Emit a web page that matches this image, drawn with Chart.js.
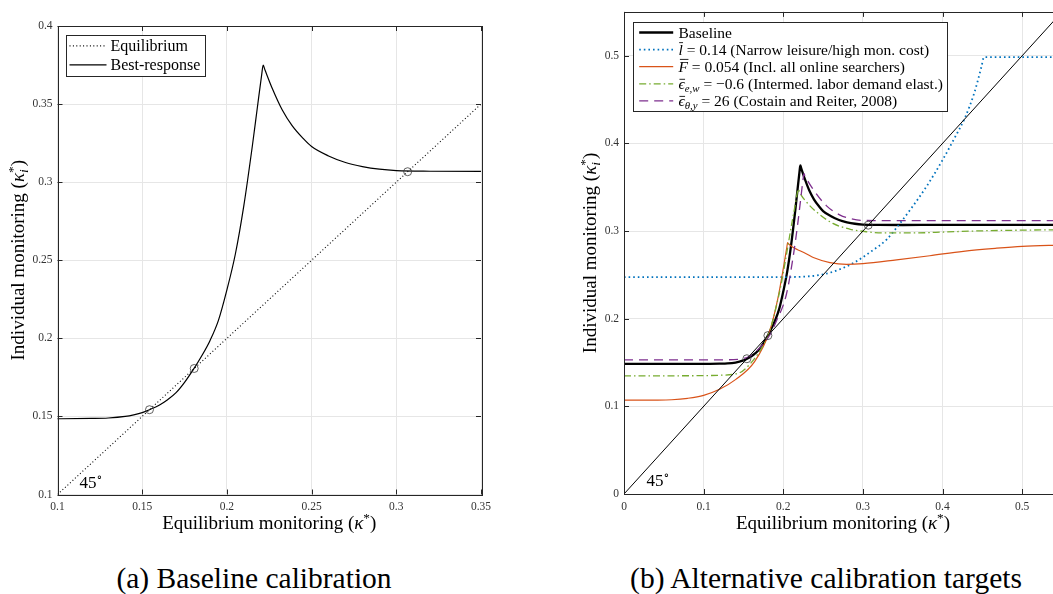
<!DOCTYPE html>
<html>
<head>
<meta charset="utf-8">
<script src="https://cdn.jsdelivr.net/npm/chart.js@4.4.1/dist/chart.umd.min.js"></script>
<style>
  html, body { margin: 0; padding: 0; background: #fff; }
  body { width: 1053px; height: 594px; overflow: hidden; position: relative; font-family: "Liberation Serif", "DejaVu Serif", serif; }
  canvas { position: absolute; top: 0; }
  #chartA { left: 0; }
  #chartB { left: 560px; }
  .caption { position: absolute; top: 561px; font-size: 29.5px; line-height: 34px; color: #000; white-space: nowrap; transform: translateX(-50%); }
</style>
</head>
<body>
<canvas id="chartA" width="500" height="540"></canvas>
<canvas id="chartB" width="520" height="540"></canvas>
<div class="caption" style="left:254px">(a) Baseline calibration</div>
<div class="caption" style="left:826px">(b) Alternative calibration targets</div>
<script>
// equilibrium monitoring grid and best response, baseline calibration
const baseX = [0, 0.05, 0.10, 0.12, 0.13, 0.14, 0.145, 0.15, 0.1543, 0.16, 0.165, 0.17, 0.175, 0.1807, 0.185, 0.19, 0.195, 0.20, 0.205, 0.21, 0.215, 0.218, 0.2205, 0.2214, 0.2225, 0.2268, 0.2327, 0.2385, 0.245, 0.25, 0.26, 0.27, 0.28, 0.29, 0.30, 0.32, 0.35, 0.40, 0.45, 0.50, 0.55];
const baseY = [0.1484, 0.1484, 0.1485, 0.1487, 0.1490, 0.1500, 0.1510, 0.1524, 0.1543, 0.1572, 0.1607, 0.1652, 0.1718, 0.1809, 0.1885, 0.1985, 0.2115, 0.2310, 0.2540, 0.2850, 0.3230, 0.3480, 0.3685, 0.3749, 0.3718, 0.3600, 0.3462, 0.3362, 0.3280, 0.3228, 0.3168, 0.3126, 0.3100, 0.3083, 0.3074, 0.3070, 0.3069, 0.3070, 0.3070, 0.3070, 0.3070];

// fixed points of the baseline best response
const eqK = [0.1543, 0.1807, 0.3067];

// l bar = 0.14
const lbarX = [0, 0.20, 0.23, 0.25, 0.27, 0.29, 0.31, 0.33, 0.345, 0.36, 0.38, 0.40, 0.415, 0.428, 0.44, 0.449, 0.452, 0.50, 0.55];
const lbarY = [0.2475, 0.2475, 0.2482, 0.2505, 0.2560, 0.2645, 0.2765, 0.2905, 0.3070, 0.3250, 0.3510, 0.3810, 0.4060, 0.4290, 0.4580, 0.4880, 0.4985, 0.4985, 0.4985];

// F bar = 0.054
const fbarX = [0, 0.04, 0.06, 0.08, 0.10, 0.12, 0.14, 0.164, 0.1828, 0.1933, 0.2008, 0.2045, 0.2054, 0.2062, 0.209, 0.215, 0.221, 0.23, 0.2377, 0.2586, 0.2795, 0.30, 0.3423, 0.384, 0.426, 0.468, 0.50, 0.55];
const fbarY = [0.1070, 0.1071, 0.1075, 0.1092, 0.1126, 0.1195, 0.1305, 0.1510, 0.1856, 0.2235, 0.2614, 0.2817, 0.2867, 0.2860, 0.2835, 0.2800, 0.2775, 0.2735, 0.2698, 0.2640, 0.2620, 0.2628, 0.2671, 0.2718, 0.2769, 0.2804, 0.2825, 0.2840];

// labor demand elasticity -0.6
const epswX = [0, 0.08, 0.12, 0.1452, 0.1577, 0.1703, 0.1828, 0.1912, 0.1975, 0.2038, 0.21, 0.215, 0.2175, 0.2185, 0.2195, 0.2225, 0.2289, 0.2414, 0.2623, 0.2833, 0.3042, 0.325, 0.363, 0.405, 0.447, 0.50, 0.55];
const epswY = [0.1348, 0.1349, 0.1355, 0.1383, 0.1477, 0.1629, 0.1856, 0.2140, 0.2400, 0.2720, 0.3050, 0.3300, 0.3430, 0.3480, 0.3465, 0.3410, 0.3333, 0.3220, 0.3087, 0.3023, 0.2992, 0.2978, 0.2978, 0.2990, 0.3002, 0.3010, 0.3015];

// theta-y elasticity 26
const epsyX = [0, 0.12, 0.1452, 0.1577, 0.1703, 0.1828, 0.1912, 0.2038, 0.2121, 0.2184, 0.2226, 0.2250, 0.2260, 0.2270, 0.2372, 0.254, 0.2707, 0.2874, 0.3042, 0.35, 0.45, 0.55];
const epsyY = [0.1530, 0.1531, 0.1538, 0.1572, 0.1667, 0.1811, 0.1970, 0.2273, 0.2689, 0.3100, 0.3420, 0.3600, 0.3655, 0.3635, 0.3480, 0.3290, 0.3185, 0.3135, 0.3120, 0.3118, 0.3118, 0.3118];

// 45 degree lines
const diagA = [0.1, 0.35];
const diagB = [0, 0.55];

// axis ranges [min, max, step]
const xRangeA = [0.1, 0.35, 0.05];
const yRangeA = [0.1, 0.4, 0.05];
const xRangeB = [0, 0.55, 0.1];
const yRangeB = [0, 0.55, 0.1];

const legendA = [
  [{ t: 'Equilibrium' }],
  [{ t: 'Best-response' }]
];
const legendB = [
  [{ t: 'Baseline' }],
  [{ t: 'l', it: true, bar: 0.78 }, { t: ' = 0.14 (Narrow leisure/high mon. cost)' }],
  [{ t: 'F', it: true, bar: 0.8 }, { t: ' = 0.054 (Incl. all online searchers)' }],
  [{ t: 'ϵ', it: true, bar: 0.62 }, { t: 'e,w', it: true, sub: true }, { t: ' = −0.6 (Intermed. labor demand elast.)' }],
  [{ t: 'ϵ', it: true, bar: 0.62 }, { t: 'θ,y', it: true, sub: true }, { t: ' = 26 (Costain and Reiter, 2008)' }]
];
const xTitle = [{ t: 'Equilibrium monitoring (' }, { t: 'κ', it: true }, { t: '*', sup: true }, { t: ')' }];
const yTitle = [{ t: 'Individual monitoring (' }, { t: 'κ', it: true }, { t: '*', sup: true, keep: true }, { t: 'i', it: true, sub: true }, { t: ')' }];
const degLabel = [{ t: '45' }, { t: '∘', sup: true }];

const SERIF = '"Liberation Serif", "DejaVu Serif", serif';
Chart.defaults.font.family = SERIF;
Chart.defaults.color = '#333';
Chart.defaults.animation = false;

// --- small rich-text helper for italics, bars, sub/superscripts
function layoutRich(ctx, segs, size) {
  let w = 0, pending = 0;
  const runs = segs.map(s => {
    const sz = (s.sub || s.sup) ? size * 0.7 : size;
    ctx.font = (s.it ? 'italic ' : '') + sz + 'px ' + SERIF;
    const rw = ctx.measureText(s.t).width;
    const r = { s, sz, rw, x: w };
    if (s.keep) pending = rw;
    else { w += Math.max(rw, pending); pending = 0; }
    return r;
  });
  return { runs, w };
}

function drawRich(ctx, segs, x, y, size, align) {
  const { runs, w } = layoutRich(ctx, segs, size);
  const x0 = align === 'center' ? x - w / 2 : x;
  ctx.save();
  ctx.fillStyle = '#000';
  ctx.strokeStyle = '#000';
  ctx.textAlign = 'left';
  ctx.textBaseline = 'alphabetic';
  runs.forEach(r => {
    const s = r.s;
    ctx.font = (s.it ? 'italic ' : '') + r.sz + 'px ' + SERIF;
    let yy = y;
    if (s.sup) yy -= size * 0.36;
    if (s.sub) yy += size * 0.22;
    ctx.fillText(s.t, x0 + r.x, yy);
    if (s.bar) {
      ctx.lineWidth = Math.max(0.8, size * 0.055);
      ctx.beginPath();
      ctx.moveTo(x0 + r.x + r.rw * 0.15, y - size * s.bar);
      ctx.lineTo(x0 + r.x + r.rw * 1.05, y - size * s.bar);
      ctx.stroke();
    }
  });
  ctx.restore();
  return w;
}

// box around the plot area with inward ticks on all four sides
const axesFrame = {
  id: 'axesFrame',
  afterDatasetsDraw(chart) {
    const { ctx, chartArea: a, scales: { x, y } } = chart;
    const tl = 5;
    ctx.save();
    ctx.strokeStyle = '#262626';
    ctx.lineWidth = 1;
    ctx.beginPath();
    x.ticks.forEach(t => {
      const p = Math.round(x.getPixelForValue(t.value)) + 0.5;
      ctx.moveTo(p, a.bottom); ctx.lineTo(p, a.bottom - tl);
      ctx.moveTo(p, a.top); ctx.lineTo(p, a.top + tl);
    });
    y.ticks.forEach(t => {
      const p = Math.round(y.getPixelForValue(t.value)) + 0.5;
      ctx.moveTo(a.left, p); ctx.lineTo(a.left + tl, p);
      ctx.moveTo(a.right, p); ctx.lineTo(a.right - tl, p);
    });
    ctx.stroke();
    ctx.strokeRect(Math.round(a.left) + 0.5, Math.round(a.top) + 0.5, Math.round(a.right - a.left), Math.round(a.bottom - a.top));
    ctx.restore();
  }
};

// axis titles and the 45 degree note
const axisText = {
  id: 'axisText',
  afterDraw(chart, args, o) {
    const { ctx, chartArea: a } = chart;
    drawRich(ctx, xTitle, (a.left + a.right) / 2, o.titleY + o.size * 0.33, o.size, 'center');
    ctx.save();
    ctx.translate(o.yTitleX, (a.top + a.bottom) / 2);
    ctx.rotate(-Math.PI / 2);
    drawRich(ctx, yTitle, 0, o.size * 0.33, o.size, 'center');
    ctx.restore();
    drawRich(ctx, degLabel, a.left + o.degDx, a.bottom - o.degDy, 17, 'left');
  }
};

// MATLAB-style boxed legend with rich labels
const legendBox = {
  id: 'legendBox',
  afterDraw(chart, args, o) {
    const { ctx, chartArea: a } = chart;
    let maxW = 0;
    o.rows.forEach(r => { maxW = Math.max(maxW, layoutRich(ctx, r.segs, o.size).w); });
    const x0 = Math.round(a.left + o.dx) + 0.5;
    const y0 = Math.round(a.top + o.dy) + 0.5;
    const w = Math.round(o.textX + maxW + 5);
    const h = Math.round(o.first * 2 + 1 + o.rowH * (o.rows.length - 1));
    ctx.save();
    ctx.fillStyle = '#fff';
    ctx.fillRect(x0, y0, w, h);
    ctx.strokeStyle = '#262626';
    ctx.lineWidth = 1;
    ctx.strokeRect(x0, y0, w, h);
    o.rows.forEach((r, i) => {
      const ds = chart.data.datasets[r.ds];
      const cy = y0 + o.first + i * o.rowH;
      ctx.save();
      ctx.strokeStyle = ds.borderColor;
      ctx.lineWidth = ds.borderWidth;
      ctx.setLineDash(ds.borderDash || []);
      ctx.beginPath();
      ctx.moveTo(x0 + o.lineX[0], cy);
      ctx.lineTo(x0 + o.lineX[1], cy);
      ctx.stroke();
      ctx.restore();
      drawRich(ctx, r.segs, x0 + o.textX, cy + o.size * 0.33, o.size, 'left');
    });
    ctx.restore();
  }
};

function pts(xs, ys) { return xs.map((x, i) => ({ x, y: ys[i] })); }

function curve(xs, ys, color, width, dash, order) {
  return {
    data: pts(xs, ys), showLine: true, borderColor: color, borderWidth: width,
    borderDash: dash || [], pointRadius: 0, pointHoverRadius: 0,
    cubicInterpolationMode: 'monotone', fill: false, order
  };
}

function markers(ks, order) {
  return {
    data: pts(ks, ks), showLine: false, pointRadius: 4, pointHoverRadius: 4,
    pointStyle: 'circle', pointBorderColor: '#3a3a3a', pointBackgroundColor: 'rgba(0,0,0,0)',
    pointBorderWidth: 0.8, order
  };
}

function axis(range, size, horizontal) {
  const [min, max, step] = range;
  const ax = {
    type: 'linear', min, max,
    ticks: {
      stepSize: step, includeBounds: false, padding: horizontal ? 6 : 5, autoSkip: false, maxRotation: 0,
      font: { size: 11.5 }, color: '#333',
      callback: v => String(+Number(v).toFixed(2))
    },
    grid: { color: '#e6e6e6', lineWidth: 1, drawTicks: false },
    border: { display: false }
  };
  if (horizontal) ax.afterFit = s => { s.height = size; };
  else ax.afterFit = s => { s.width = size; };
  return ax;
}

// (a) baseline calibration
new Chart(document.getElementById('chartA'), {
  type: 'scatter',
  plugins: [axesFrame, axisText, legendBox],
  data: {
    datasets: [
      curve(baseX, baseY, '#000', 1.2, [], 3),
      curve(diagA, diagA, '#000', 1.1, [1, 2.4], 2),
      markers(eqK, 1)
    ]
  },
  options: {
    responsive: false,
    maintainAspectRatio: false,
    layout: { padding: { top: 26, right: 19, left: 0, bottom: 0 } },
    scales: { x: axis(xRangeA, 45.5, true), y: axis(yRangeA, 57.5, false) },
    plugins: {
      legend: { display: false },
      tooltip: { enabled: false },
      axisText: { size: 19, titleY: 523, yTitleX: 18, degDx: 22, degDy: 7 },
      legendBox: {
        size: 16, dx: 8.5, dy: 8.6, first: 10.4, rowH: 18.9, lineX: [3, 40], textX: 44,
        rows: [{ ds: 1, segs: legendA[0] }, { ds: 0, segs: legendA[1] }]
      }
    }
  }
});

// (b) alternative calibration targets
new Chart(document.getElementById('chartB'), {
  type: 'scatter',
  plugins: [axesFrame, axisText, legendBox],
  data: {
    datasets: [
      curve(baseX, baseY, '#000', 2.3, [], 7),
      curve(lbarX, lbarY, '#0072BD', 1.8, [1.6, 3], 6),
      curve(fbarX, fbarY, '#D95319', 1.2, [], 5),
      curve(epswX, epswY, '#77AC30', 1.3, [7, 3, 1.5, 3], 4),
      curve(epsyX, epsyY, '#7E2F8E', 1.3, [9, 6], 3),
      curve(diagB, diagB, '#000', 1, [], 2),
      markers(eqK, 1)
    ]
  },
  options: {
    responsive: false,
    maintainAspectRatio: false,
    layout: { padding: { top: 9.5, right: 18, left: 0, bottom: 0 } },
    scales: { x: axis(xRangeB, 46, true), y: axis(yRangeB, 64, false) },
    plugins: {
      legend: { display: false },
      tooltip: { enabled: false },
      axisText: { size: 19, titleY: 523, yTitleX: 30, degDx: 22.5, degDy: 8.5 },
      legendBox: {
        size: 15.5, dx: 9.3, dy: 10.5, first: 10, rowH: 17.1, lineX: [5.7, 39.7], textX: 45,
        rows: legendB.map((segs, i) => ({ ds: i, segs }))
      }
    }
  }
});
</script>
</body>
</html>
